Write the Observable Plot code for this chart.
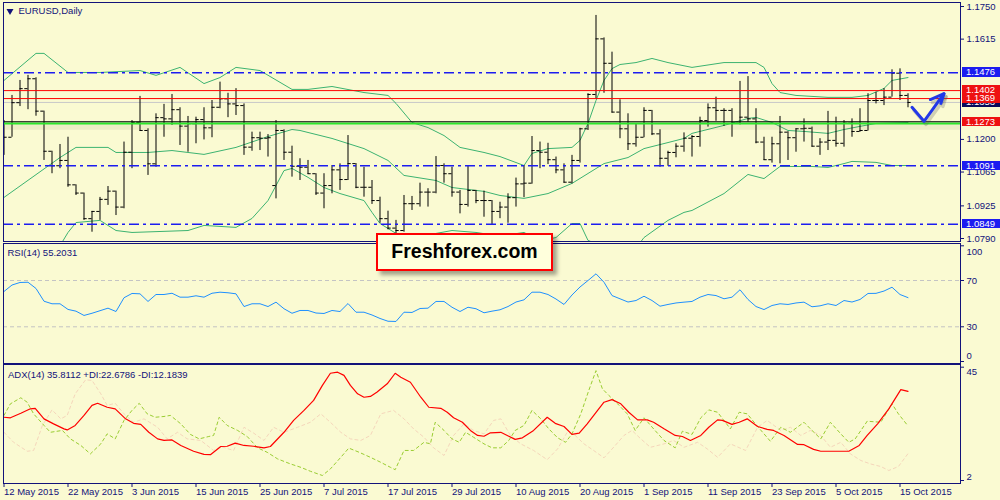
<!DOCTYPE html>
<html><head><meta charset="utf-8">
<script src="https://cdn.jsdelivr.net/npm/d3@7"></script>
<script src="https://cdn.jsdelivr.net/npm/@observablehq/plot@0.6"></script>
<style>
body{margin:0;background:#fafad2;}
#wrap{position:relative;width:1000px;height:500px;background:#fafad2;overflow:hidden;font-family:Tahoma,"Liberation Sans",Arial,sans-serif;}
#wrap svg{position:absolute;left:0;top:0;}
.lbl{position:absolute;left:962px;width:38px;height:9.5px;line-height:9.5px;font-size:9.5px;color:#fff;padding-left:4px;box-sizing:border-box;white-space:nowrap;overflow:hidden;}
.brand{position:absolute;left:376px;top:233px;width:177px;height:38px;box-sizing:border-box;border:2.5px solid #ff0000;background:#ffffdc;box-shadow:4px 4px 4px rgba(0,0,0,0.35);font:bold 19.5px "Liberation Sans",Arial,sans-serif;color:#000;text-align:center;line-height:33px;}
</style></head><body>
<div id="wrap"></div>
<script>
// ---------- DATA ----------
const dateTicks = [0,8,16,24,32,40,48,56,64,72,80,88,96,104,112];
const dateLabels = ["12 May 2015","22 May 2015","3 Jun 2015","15 Jun 2015","25 Jun 2015","7 Jul 2015","17 Jul 2015","29 Jul 2015","10 Aug 2015","20 Aug 2015","1 Sep 2015","11 Sep 2015","23 Sep 2015","5 Oct 2015","15 Oct 2015"];

const open = [1.1250,1.1209,1.1352,1.1410,1.1451,1.1317,1.1151,1.1091,1.1113,1.1012,
 1.0978,1.0872,1.0902,1.0952,1.0986,1.0920,1.1147,1.1271,1.1237,1.1099,
 1.1290,1.1285,1.1323,1.1255,1.1265,1.1282,1.1248,1.1333,1.1368,1.1347,
 1.1340,1.1168,1.1207,1.1205,1.1009,1.1237,1.1147,1.1089,1.1085,1.1058,
 1.0978,1.1009,1.1074,1.1034,1.1100,1.1002,1.1002,1.0947,1.0872,1.0833,
 1.0823,1.0934,1.0934,1.0982,1.0982,1.1092,1.1058,1.0982,1.0931,1.0989,
 1.0947,1.0947,1.0902,1.0920,1.0959,1.1016,1.1019,1.1154,1.1147,1.1116,
 1.1074,1.1023,1.1113,1.1244,1.1386,1.1616,1.1515,1.1313,1.1244,1.1182,
 1.1209,1.1320,1.1223,1.1122,1.1146,1.1172,1.1205,1.1212,1.1278,1.1331,
 1.1320,1.1320,1.1267,1.1292,1.1285,1.1189,1.1116,1.1182,1.1230,1.1207,
 1.1244,1.1246,1.1172,1.1189,1.1196,1.1184,1.1267,1.1233,1.1237,1.1361,
 1.1361,1.1375,1.1474,1.1382];
const high = [1.1278,1.1382,1.1444,1.1465,1.1455,1.1317,1.1151,1.1179,1.1209,1.1012,
 1.0978,1.0902,1.0960,1.1005,1.0986,1.1189,1.1278,1.1378,1.1244,1.1306,
 1.1345,1.1386,1.1331,1.1295,1.1292,1.1331,1.1361,1.1437,1.1391,1.1410,
 1.1347,1.1230,1.1230,1.1220,1.1278,1.1240,1.1172,1.1120,1.1113,1.1058,
 1.1058,1.1092,1.1099,1.1216,1.1100,1.1085,1.1030,1.0961,1.0903,1.0865,
 1.0968,1.0964,1.1019,1.0996,1.1129,1.1099,1.1085,1.0989,1.1092,1.0989,
 1.0986,1.0947,1.0940,1.0975,1.1040,1.1092,1.1212,1.1189,1.1184,1.1127,
 1.1099,1.1134,1.1246,1.1389,1.1713,1.1620,1.1561,1.1364,1.1306,1.1262,
 1.1331,1.1320,1.1240,1.1151,1.1182,1.1227,1.1216,1.1292,1.1347,1.1375,
 1.1327,1.1327,1.1440,1.1460,1.1327,1.1209,1.1209,1.1295,1.1232,1.1244,
 1.1285,1.1251,1.1203,1.1316,1.1292,1.1278,1.1285,1.1327,1.1389,1.1395,
 1.1410,1.1488,1.1492,1.1389];
const low = [1.1134,1.1209,1.1336,1.1323,1.1296,1.1113,1.1058,1.1079,1.1002,1.0968,
 1.0865,1.0816,1.0865,1.0927,1.0885,1.0913,1.1079,1.1234,1.1051,1.1085,
 1.1209,1.1258,1.1175,1.1147,1.1182,1.1198,1.1207,1.1327,1.1290,1.1299,
 1.1134,1.1151,1.1154,1.1127,1.0954,1.1113,1.1044,1.1030,1.1055,1.0968,
 1.0913,1.0975,1.0989,1.1030,1.0996,1.0961,1.0931,1.0853,1.0826,1.0810,
 1.0816,1.0906,1.0920,1.0920,1.0975,1.1019,1.0961,1.0892,1.0920,1.0934,
 1.0878,1.0848,1.0872,1.0853,1.0920,1.0959,1.1015,1.1079,1.1096,1.1058,
 1.1019,1.1016,1.1102,1.1237,1.1368,1.1391,1.1309,1.1203,1.1154,1.1168,
 1.1207,1.1216,1.1085,1.1089,1.1124,1.1147,1.1127,1.1168,1.1251,1.1275,
 1.1254,1.1209,1.1260,1.1271,1.1182,1.1113,1.1102,1.1099,1.1113,1.1147,
 1.1189,1.1168,1.1134,1.1154,1.1168,1.1168,1.1209,1.1230,1.1235,1.1347,
 1.1340,1.1375,1.1361,1.1331];
const close = [1.1209,1.1352,1.1410,1.1451,1.1317,1.1151,1.1091,1.1113,1.1012,1.0978,
 1.0872,1.0902,1.0952,1.0986,1.0920,1.1147,1.1271,1.1237,1.1099,1.1290,
 1.1285,1.1323,1.1255,1.1265,1.1282,1.1248,1.1333,1.1368,1.1347,1.1340,
 1.1168,1.1207,1.1205,1.1207,1.1237,1.1147,1.1089,1.1085,1.1058,1.0978,
 1.1009,1.1074,1.1034,1.1100,1.1002,1.1002,1.0947,1.0872,1.0833,1.0823,
 1.0934,1.0934,1.0982,1.0982,1.1092,1.1058,1.0982,1.0931,1.0989,1.0947,
 1.0947,1.0902,1.0920,1.0959,1.1016,1.1019,1.1154,1.1147,1.1116,1.1074,
 1.1023,1.1113,1.1244,1.1386,1.1616,1.1515,1.1313,1.1244,1.1182,1.1209,
 1.1320,1.1223,1.1122,1.1146,1.1172,1.1205,1.1212,1.1278,1.1331,1.1320,
 1.1320,1.1267,1.1292,1.1285,1.1189,1.1116,1.1182,1.1230,1.1207,1.1244,
 1.1246,1.1172,1.1189,1.1196,1.1184,1.1267,1.1233,1.1237,1.1361,1.1361,
 1.1375,1.1474,1.1382,1.1353];

// Bollinger bands [bar index, price]
const bbUpper = [[0,1.1444],[4,1.1556],[5,1.1556],[8,1.1477],[12,1.1477],[17,1.1485],[19,1.1465],[22,1.1498],[25,1.1431],[27,1.1456],[29,1.1498],[32,1.1485],[36,1.1407],[38,1.1407],[41,1.1419],[45,1.1394],[48,1.1382],[49,1.1349],[51,1.1270],[53,1.1249],[55,1.1216],[57,1.1167],[60,1.1146],[62,1.1129],[65,1.1092],[66,1.1142],[68,1.1162],[71,1.1167],[72,1.1196],[73,1.1266],[74,1.1361],[75,1.1444],[76,1.1493],[77,1.1510],[79,1.1518],[81,1.1535],[83,1.1518],[86,1.1498],[90,1.1518],[94,1.1518],[95,1.1498],[96,1.1431],[97,1.1394],[99,1.1382],[103,1.1374],[106,1.1374],[108,1.1382],[110,1.1411],[111,1.1444],[113,1.1456]];
const bbMiddle = [[0,1.0960],[7,1.1125],[9,1.1167],[13,1.1167],[14,1.1146],[18,1.1146],[21,1.1154],[25,1.1138],[29,1.1167],[33,1.1212],[36,1.1241],[37,1.1237],[41,1.1204],[45,1.1162],[48,1.1113],[50,1.1051],[54,1.1030],[56,1.1001],[60,1.0985],[62,1.0968],[65,1.0956],[68,1.0976],[71,1.1018],[73,1.1059],[75,1.1100],[78,1.1125],[80,1.1162],[83,1.1187],[85,1.1204],[86,1.1225],[90,1.1258],[93,1.1287],[94,1.1291],[96,1.1270],[98,1.1237],[100,1.1233],[103,1.1225],[105,1.1241],[107,1.1254],[109,1.1266],[113,1.1270]];
const bbLower = [[0,1.0476],[4,1.0560],[7,1.0760],[8,1.0815],[9,1.0856],[12,1.0865],[14,1.0823],[16,1.0815],[23,1.0823],[25,1.0844],[29,1.0836],[31,1.0873],[33,1.0947],[35,1.1071],[36,1.1080],[38,1.1043],[40,1.1001],[42,1.0976],[45,1.0947],[46,1.0898],[47,1.0852],[49,1.0811],[51,1.0785],[54,1.0811],[56,1.0823],[59,1.0815],[62,1.0800],[65,1.0815],[67,1.0780],[69,1.0794],[71,1.0852],[72,1.0852],[73,1.0782],[75,1.0756],[77,1.0740],[79,1.0750],[80,1.0794],[83,1.0865],[85,1.0898],[86,1.0906],[90,1.0976],[93,1.1055],[95,1.1038],[97,1.1088],[101,1.1088],[103,1.1084],[105,1.1100],[106,1.1109],[109,1.1105],[111,1.1092],[113,1.1092]];

const priceTicks = [1.1750,1.1615,1.1200,1.1065,1.0925,1.0790];
const blueLevels = [1.1476,1.1091,1.0849];
const redLevels = [1.1402,1.1369];
const greenLevel = 1.1273;
const bidLevel = 1.1353;
const arrowLine = [[113.5,1.1333],[115,1.1275],[117.5,1.1389]];
const arrowHead = [[115.8,1.1365],[117.5,1.1389],[117.1,1.1349]];

const rsi = [60.5,66.1,68.3,68.5,63.1,52.1,49.9,49.9,45.0,43.5,
 39.8,41.7,43.9,46.1,43.2,55.1,58.8,58.5,51.9,57.9,
 57.9,59.0,55.6,55.6,56.8,55.6,59.0,59.9,59.4,58.5,
 47.5,49.9,49.9,47.5,51.3,45.6,41.7,44.1,44.1,41.9,
 41.5,44.1,43.2,50.1,42.6,42.6,40.2,37.2,34.8,34.6,
 42.6,42.4,45.8,46.1,51.9,51.9,46.9,43.2,46.9,45.6,
 42.1,43.5,44.7,47.5,51.4,53.3,59.9,59.9,57.9,54.0,
 49.3,57.5,64.4,70.0,75.8,68.5,57.0,54.2,51.4,52.7,
 56.4,52.7,47.8,49.3,50.6,51.3,51.9,55.6,57.9,57.0,
 54.2,55.6,62.0,53.6,47.5,44.9,48.4,49.9,49.3,50.6,
 51.3,47.3,48.1,49.9,48.4,52.7,51.4,53.6,58.8,58.9,
 60.9,64.2,57.9,55.2];
const rsiLevels = [70,30];

// ADX / DI [bar index, value]
const adx = [[0,26.0],[0.8,25.8],[2.1,27.5],[3.3,29.2],[3.9,29.4],[5,25.4],[6.2,23.5],[7.5,21.6],[7.9,21.2],[8.9,22.9],[10,26.7],[11,30.5],[11.7,31.3],[12.9,29.8],[13.9,29.2],[15.2,25.4],[16.2,23.7],[17.1,23.3],[18.1,20.3],[19.2,17.8],[20,17.2],[21,17.4],[22.1,15.3],[23.7,13.1],[25,11.9],[25.8,11.8],[27.1,14.9],[27.9,15.0],[28.9,16.2],[30,15.3],[31.2,15.0],[32.5,14.4],[33.3,14.9],[35,20.3],[36.2,24.8],[37.5,28.6],[38.7,32.4],[39.8,38.1],[40.8,42.7],[41.7,43.1],[42.5,41.9],[43.3,38.1],[44.2,34.9],[45,33.6],[45.8,33.9],[46.6,35.5],[47.9,38.7],[48.9,42.7],[49.6,41.2],[50.8,39.3],[52.1,33.6],[53.1,29.8],[54.6,29.4],[55.4,27.9],[56.2,25.8],[57.3,24.1],[58.3,21.0],[59.2,19.1],[60,18.8],[60.8,20.1],[62.1,20.3],[63.9,17.6],[64.8,18.2],[66.2,21.0],[67.9,26.0],[68.9,23.7],[70,22.5],[71,19.5],[71.9,20.0],[72.9,23.5],[74.2,28.6],[75,31.7],[76,32.7],[77.1,31.1],[78.1,27.9],[79.2,25.0],[80.4,25.0],[81.2,24.1],[82.5,21.6],[83.9,19.1],[84.8,18.7],[85.8,17.2],[87.1,19.1],[88.1,22.2],[89.2,25.0],[89.8,24.8],[91,23.3],[91.9,24.1],[92.9,25.4],[94.2,22.5],[95.4,21.4],[96.2,21.0],[97.5,19.1],[99.2,15.7],[100,15.6],[101.2,13.8],[102.1,13.1],[105.6,13.1],[106.9,15.3],[107.9,19.1],[109.2,23.5],[110.6,29.2],[112.1,36.5],[113,35.8]];
const plusDI = [[0,26.7],[0.8,31.1],[2.1,33.4],[2.9,31.7],[3.7,27.3],[5,22.9],[5.8,20.3],[7.3,21.0],[8.3,17.8],[9.6,15.3],[10.8,12.1],[12.1,15.9],[12.9,19.7],[13.9,17.8],[15,24.8],[16,28.6],[16.9,31.3],[17.9,27.3],[18.9,26.0],[20,26.3],[20.8,26.7],[22.1,23.5],[23.3,19.5],[24.4,17.8],[25.6,18.7],[26.2,19.1],[26.9,26.0],[27.9,22.9],[29.2,21.0],[30.4,18.7],[31.7,14.4],[32.9,12.7],[34.2,10.2],[35.8,8.3],[37.1,7.0],[38.3,5.5],[39.8,3.9],[40.8,6.4],[42.1,10.8],[43.1,14.3],[44.4,12.7],[45.8,10.8],[47.1,8.9],[48.3,7.0],[48.9,6.1],[50,13.4],[51.2,13.4],[52.5,16.5],[53.3,15.9],[53.9,24.1],[55,21.0],[56,17.8],[56.9,16.5],[57.7,20.3],[58.7,18.4],[60,15.9],[61,14.4],[62.1,14.4],[63.1,17.2],[63.9,21.0],[65,22.9],[66,28.6],[67.1,25.4],[68.1,21.6],[69.2,18.2],[70.2,16.5],[71,19.7],[72.1,27.3],[73.1,36.2],[74,43.7],[74.8,36.8],[75.6,34.3],[76.7,31.1],[77.9,27.3],[78.9,21.0],[80,25.8],[81.2,21.6],[82.5,17.2],[83.9,14.4],[84.8,20.7],[86,19.5],[87.1,25.8],[88.1,28.8],[89.2,27.9],[90.8,21.6],[91.9,27.9],[92.9,27.3],[94.2,22.5],[95.8,16.9],[97.1,22.2],[98.3,20.3],[100,24.1],[101,21.0],[102.1,17.8],[103.3,24.1],[104.6,19.7],[105.6,16.5],[106.4,17.8],[107.9,24.5],[109.6,24.1],[111,31.1],[111.8,27.3],[113,22.7]];
const minusDI = [[0,20.3],[1.2,16.5],[2.9,13.1],[3.7,13.4],[4.8,22.9],[6,28.8],[7.1,25.4],[7.9,26.7],[8.9,34.9],[10.2,40.2],[11,40.0],[12.1,34.9],[12.9,30.5],[13.9,31.3],[15,27.3],[16.2,24.1],[17.5,25.4],[19.2,22.2],[20.4,17.8],[21.7,20.3],[22.9,17.8],[24.6,17.2],[26.2,13.4],[27.1,14.9],[28.7,13.4],[30,22.2],[31.2,20.0],[32.5,17.2],[33.7,22.2],[35,20.3],[36.7,22.2],[38.3,24.1],[39.6,27.3],[40.8,24.1],[42.1,20.3],[43.3,17.8],[44.6,17.2],[45.8,19.1],[47.1,27.3],[48.7,28.6],[50,25.4],[51.2,21.6],[52.5,18.4],[53.7,14.4],[55,11.5],[56.2,19.1],[57.5,23.5],[58.7,21.0],[60,19.7],[61.2,24.8],[62.1,25.4],[63.3,19.1],[64.6,15.9],[66.2,13.4],[67.9,9.9],[69.2,14.0],[70.4,20.3],[71.4,19.1],[72.5,15.9],[73.7,13.4],[75,10.6],[76.2,14.6],[77.5,19.1],[78.5,21.0],[79.6,17.8],[80.8,14.6],[82.5,15.9],[83.7,17.2],[85,14.6],[86.7,16.5],[87.9,14.0],[89.2,10.8],[90.8,15.9],[92.7,13.4],[94.2,22.2],[95.4,24.8],[97.1,21.0],[98.3,22.2],[99.6,19.1],[100.8,21.0],[102.1,19.1],[103.3,14.6],[104.6,16.5],[105.8,12.1],[107.1,9.6],[108.3,8.3],[109.6,7.3],[110.6,5.8],[111.8,7.3],[113,12.2]];

// ---------- DRAW ----------
const wrap = document.getElementById("wrap");
const FONT = "Tahoma, 'Liberation Sans', Arial, sans-serif";
const NAVY = "#12127a";
const base = {width:1000, height:500, marginLeft:3, marginRight:40,
  style:{background:"transparent", fontFamily:FONT, fontSize:"9.5px", overflow:"visible"}};
const xs = {domain:[0,113], range:[3.5,907.5]};
const px = d => d[0], py = d => d[1];

const bars = close.map((c,i)=>({i, o:open[i], h:high[i], l:low[i], c}));

const main = Plot.plot({...base, marginTop:2, marginBottom:259,
  x:{...xs, axis:null}, y:{domain:[1.0790,1.1750], range:[238,6]},
  marks:[
    Plot.ruleY([bidLevel], {stroke:"#c8c8c8"}),
    Plot.line(bbUpper, {x:px, y:py, stroke:"#3cb371", strokeWidth:1, clip:true}),
    Plot.line(bbMiddle, {x:px, y:py, stroke:"#3cb371", strokeWidth:1, clip:true}),
    Plot.line(bbLower, {x:px, y:py, stroke:"#3cb371", strokeWidth:1, clip:true}),
    Plot.ruleX(bars, {x:"i", y1:"l", y2:"h", stroke:"#000", clip:true}),
    Plot.ruleY(bars, {y:"o", x1:d=>d.i-0.4, x2:"i", stroke:"#000", clip:true}),
    Plot.ruleY(bars, {y:"c", x1:"i", x2:d=>d.i+0.4, stroke:"#000", clip:true}),
    Plot.ruleY(blueLevels, {stroke:"#1c1cf0", strokeWidth:1.4, strokeDasharray:"10,4,3,4"}),
    Plot.ruleY(redLevels, {stroke:"#ff0000"}),
    Plot.ruleY([greenLevel], {stroke:"#6a6a40", strokeOpacity:0.09, strokeWidth:6, dy:5}),
    Plot.ruleY([greenLevel], {stroke:"#2be82b", strokeWidth:2.2, dy:1.7}),
    Plot.ruleY([greenLevel], {stroke:"#000", strokeWidth:1.1}),
    Plot.line(arrowLine, {x:px, y:py, stroke:"#555", strokeOpacity:0.25, strokeWidth:3.5, dx:2, dy:3, strokeLinejoin:"round", strokeLinecap:"round"}),
    Plot.line(arrowHead, {x:px, y:py, stroke:"#555", strokeOpacity:0.25, strokeWidth:3.5, dx:2, dy:3, strokeLinejoin:"round", strokeLinecap:"round"}),
    Plot.line(arrowLine, {x:px, y:py, stroke:"#2238e8", strokeWidth:3, strokeLinejoin:"round", strokeLinecap:"round"}),
    Plot.line(arrowHead, {x:px, y:py, stroke:"#2238e8", strokeWidth:3, strokeLinejoin:"round", strokeLinecap:"round"}),
    Plot.frame({stroke:NAVY}),
    Plot.axisY(priceTicks, {anchor:"right", tickSize:3, tickPadding:3, tickFormat:d3.format(".4f"), color:NAVY}),
    Plot.dot([0], {frameAnchor:"top-left", dx:6.5, dy:8.5, symbol:"triangle", r:2.6, rotate:180, fill:NAVY, stroke:null}),
    Plot.text(["EURUSD,Daily"], {text:d=>d, frameAnchor:"top-left", dx:15, dy:5, lineAnchor:"top", textAnchor:"start", fill:NAVY})
  ]});

const rsiPlot = Plot.plot({...base, marginTop:243, marginBottom:137,
  x:{...xs, axis:null}, y:{domain:[0,100], range:[361,245.3]},
  marks:[
    Plot.ruleY(rsiLevels, {stroke:"#c4c4c4", strokeDasharray:"4,3"}),
    Plot.line(rsi, {x:(d,i)=>i, y:d=>d, stroke:"#1e90ff", strokeWidth:1}),
    Plot.frame({stroke:NAVY}),
    Plot.axisY([100,70,30,0], {anchor:"right", tickSize:3, tickFormat:()=>"", color:NAVY}),
    Plot.text(rsiLevels, {y:d=>d, text:d=>String(d), frameAnchor:"right", dx:6, textAnchor:"start", fill:NAVY}),
    Plot.text([100], {y:d=>d, text:d=>String(d), frameAnchor:"right", dx:6, dy:6, textAnchor:"start", fill:NAVY}),
    Plot.text([0], {y:d=>d, text:d=>String(d), frameAnchor:"right", dx:6, dy:-6, textAnchor:"start", fill:NAVY}),
    Plot.text(["RSI(14) 55.2031"], {text:d=>d, frameAnchor:"top-left", dx:4, dy:6, lineAnchor:"top", textAnchor:"start", fill:NAVY})
  ]});

const adxPlot = Plot.plot({...base, marginTop:364, marginBottom:17,
  x:{...xs}, y:{domain:[2,45], range:[480,366.7]},
  marks:[
    Plot.line(minusDI, {x:px, y:py, stroke:"#f5d6bb", strokeWidth:1, strokeDasharray:"3,3"}),
    Plot.line(plusDI, {x:px, y:py, stroke:"#9acd32", strokeWidth:1, strokeDasharray:"3,3"}),
    Plot.line(adx, {x:px, y:py, stroke:"#ff0000", strokeWidth:1.2}),
    Plot.frame({stroke:NAVY}),
    Plot.axisY([45,2], {anchor:"right", tickSize:3, tickFormat:()=>"", color:NAVY}),
    Plot.text([45], {y:d=>d, text:d=>String(d), frameAnchor:"right", dx:6, dy:5, textAnchor:"start", fill:NAVY}),
    Plot.text([2], {y:d=>d, text:d=>String(d), frameAnchor:"right", dx:6, dy:-4, textAnchor:"start", fill:NAVY}),
    Plot.axisX(dateTicks, {anchor:"bottom", tickSize:4, tickPadding:1, textAnchor:"start",
      tickFormat:d=>dateLabels[dateTicks.indexOf(d)], color:NAVY}),
    Plot.text(["ADX(14) 35.8112 +DI:22.6786 -DI:12.1839"], {text:d=>d, frameAnchor:"top-left", dx:4.5, dy:7, lineAnchor:"top", textAnchor:"start", fill:NAVY})
  ]});

wrap.append(main, rsiPlot, adxPlot);

// price tags on the right axis, placed with the chart's own y scale
const yScale = main.scale("y");
function tag(v, bg) {
  const d = document.createElement("div");
  d.className = "lbl";
  d.style.top = (yScale.apply(v) - 4.75) + "px";
  d.style.background = bg;
  d.textContent = v.toFixed(4);
  wrap.appendChild(d);
}
tag(bidLevel, "#0a0a5a");
redLevels.forEach(v => tag(v, "#ee1111"));
tag(greenLevel, "#ee1111");
blueLevels.forEach(v => tag(v, "#1c1cf0"));

const brand = document.createElement("div");
brand.className = "brand";
brand.textContent = "Freshforex.com";
wrap.appendChild(brand);
</script></body></html>
